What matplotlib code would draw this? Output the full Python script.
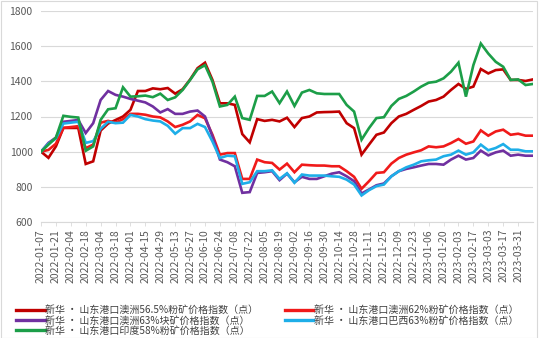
import matplotlib
matplotlib.use("Agg")
import matplotlib.pyplot as plt
import pandas as pd
from matplotlib.patches import Rectangle

plt.rcParams['font.family'] = ['Noto Sans CJK SC', 'DejaVu Sans']

# Weekly index dates (Fridays)
dates = pd.date_range("2022-01-07", periods=67, freq="7D").strftime("%Y-%m-%d").tolist()
# Dates shown on the category axis (every second week, through 2023-03-31)
tick_dates = dates[:65:2]

au_565_fines = [1000, 965, 1030, 1135, 1135, 1135, 930, 945, 1120, 1160,
                1180, 1200, 1238, 1345, 1345, 1360, 1355, 1362, 1330, 1355,
                1410, 1475, 1506, 1408, 1275, 1275, 1266, 1100, 1053, 1185,
                1175, 1181, 1172, 1193, 1140, 1191, 1200, 1223, 1225, 1226,
                1228, 1162, 1134, 983, 1040, 1096, 1109, 1162, 1200, 1215,
                1238, 1260, 1285, 1294, 1313, 1351, 1385, 1357, 1370, 1470,
                1445, 1464, 1468, 1408, 1408, 1402, 1411]

au_62_fines = [1000, 1010, 1045, 1135, 1140, 1145, 1020, 1040, 1165, 1175,
               1165, 1185, 1215, 1215, 1210, 1200, 1195, 1172, 1140, 1153,
               1172, 1209, 1190, 1096, 983, 992, 992, 845, 845, 955,
               940, 936, 898, 932, 883, 926, 923, 921, 921, 917,
               917, 889, 857, 789, 832, 879, 883, 932, 964, 983,
               996, 1008, 1030, 1025, 1030, 1049, 1072, 1045, 1058, 1121,
               1091, 1115, 1125, 1096, 1102, 1091, 1091]

au_63_lump = [1000, 1050, 1080, 1170, 1175, 1180, 1106, 1162, 1294, 1345,
              1323, 1313, 1300, 1290, 1280, 1257, 1223, 1242, 1215, 1215,
              1228, 1234, 1200, 1087, 955, 940, 917, 766, 770, 879,
              883, 889, 838, 875, 826, 857, 845, 845, 860, 875,
              883, 860, 832, 762, 785, 809, 819, 860, 889, 902,
              911, 921, 930, 930, 926, 955, 977, 955, 964, 1006,
              979, 996, 1006, 977, 983, 977, 977]

br_63_fines = [1000, 1045, 1075, 1160, 1165, 1170, 1050, 1060, 1130, 1170,
               1162, 1165, 1209, 1200, 1185, 1177, 1172, 1147, 1102, 1134,
               1134, 1158, 1140, 1058, 964, 977, 974, 817, 826, 889,
               889, 894, 845, 877, 823, 870, 864, 864, 864, 860,
               857, 841, 813, 751, 781, 804, 813, 860, 889, 911,
               926, 945, 951, 955, 974, 983, 1006, 983, 996, 1040,
               1008, 1021, 1043, 1011, 1011, 1002, 1002]

in_58_fines = [1000, 1040, 1080, 1204, 1198, 1194, 1005, 1030, 1181, 1241,
               1247, 1366, 1313, 1315, 1319, 1310, 1330, 1294, 1309, 1351,
               1408, 1468, 1492, 1398, 1257, 1266, 1313, 1191, 1181, 1317,
               1317, 1342, 1276, 1342, 1260, 1336, 1351, 1332, 1328, 1328,
               1328, 1266, 1228, 1068, 1134, 1191, 1196, 1260, 1300, 1317,
               1342, 1370, 1392, 1398, 1417, 1455, 1506, 1313, 1492, 1615,
               1558, 1511, 1483, 1408, 1411, 1379, 1385]

series = [
    ("新华 · 山东港口澳洲56.5%粉矿价格指数（点）", au_565_fines, "#C00000"),
    ("新华 · 山东港口澳洲62%粉矿价格指数（点）", au_62_fines, "#F01A1A"),
    ("新华 · 山东港口澳洲63%块矿价格指数（点）", au_63_lump, "#7030A0"),
    ("新华 · 山东港口巴西63%粉矿价格指数（点）", br_63_fines, "#1EAEE8"),
    ("新华 · 山东港口印度58%粉矿价格指数（点）", in_58_fines, "#1C9E48"),
]

W, H = 543, 338
fig = plt.figure(figsize=(W / 100, H / 100), dpi=100)
ax = fig.add_axes([41 / W, 1 - 222 / H, 492 / W, 211 / H])

x = list(range(len(dates)))
handles = {}
for name, vals, color in series:
    (ln,) = ax.plot(x, vals, color=color, lw=1.9, solid_joinstyle="miter")
    handles[name] = ln

ax.set_xlim(0, len(dates) - 1)
ax.set_ylim(600, 1800)
ax.set_yticks(range(600, 1801, 200))
ax.grid(axis="y", color="#D9D9D9", lw=0.8)
ax.set_axisbelow(True)

tick_pos = [dates.index(d) for d in tick_dates]
ax.set_xticks(tick_pos)
ax.set_xticklabels(tick_dates, rotation=90)
ax.tick_params(axis="x", colors="#595959", labelsize=7.5, length=3, width=0.6,
               color="#D9D9D9", pad=2)
ax.tick_params(axis="y", colors="#595959", labelsize=7.5, length=0, pad=6)

for s in ("left", "right", "top"):
    ax.spines[s].set_visible(False)
ax.spines["bottom"].set_color("#D9D9D9")
ax.spines["bottom"].set_linewidth(0.8)

order = [0, 2, 4, 1, 3]
leg = fig.legend([handles[series[i][0]] for i in order],
                 [series[i][0] for i in order],
                 ncol=2, loc="upper left", bbox_to_anchor=(9 / W, 1 - 298 / H),
                 frameon=False, fontsize=7.2, handlelength=2.85, handletextpad=0.08,
                 columnspacing=2.65, labelspacing=0.04, borderpad=0.2,
                 labelcolor="#404040")
for ln in leg.get_lines():
    ln.set_linewidth(2.4)

fig.patches.append(Rectangle((0.5 / W, 0.5 / H), 536 / W, (H - 1.5) / H,
                             transform=fig.transFigure, fill=False,
                             edgecolor="#D9D9D9", lw=0.8))

fig.savefig("out.png", dpi=100)
